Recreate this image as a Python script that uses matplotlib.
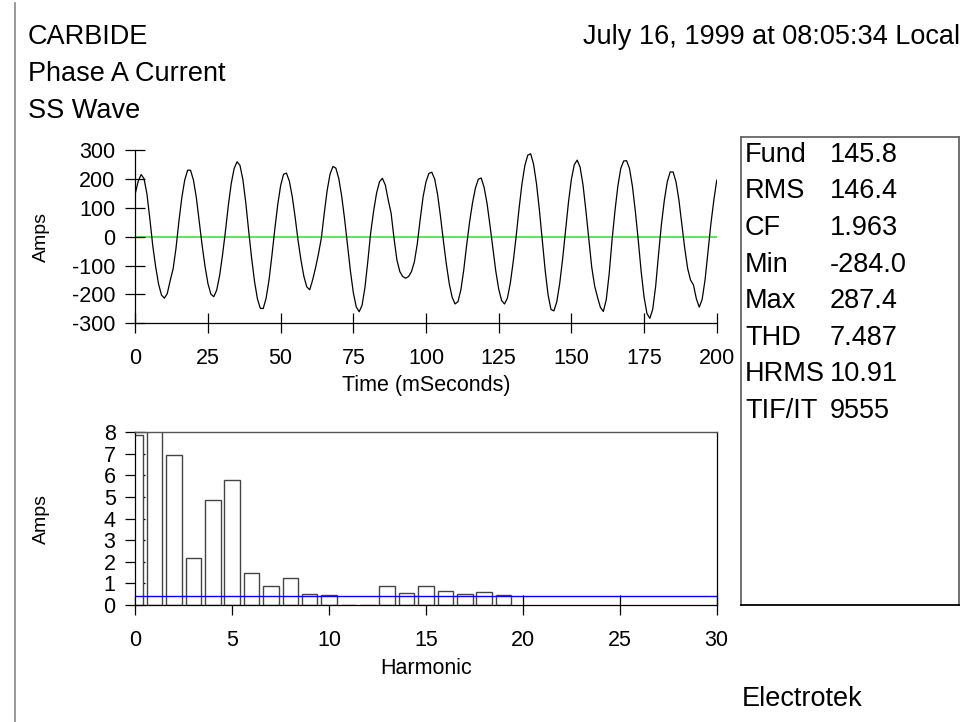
import matplotlib
matplotlib.use('Agg')
import matplotlib.pyplot as plt
from matplotlib.lines import Line2D

plt.rcParams['font.family'] = ['Liberation Sans', 'DejaVu Sans']
plt.rcParams['axes.unicode_minus'] = False

# ---------------- data ----------------
title_lines = ['CARBIDE', 'Phase A Current', 'SS Wave']
date_text = 'July 16, 1999 at 08:05:34 Local'

time_ms = list(range(0, 201))          # sample times (1 ms steps)
wave_amps = [
    150, 192, 215, 201, 148, 62, -31, -104, -164, -202,
    -213, -197, -152, -112, -40, 53, 135, 196, 230, 230,
    196, 135, 53, -31, -104, -163, -199, -208, -185, -135,
    -64, 18, 108, 184, 236, 259, 247, 198, 118, 20,
    -73, -154, -215, -248, -249, -213, -150, -65, 27, 111,
    177, 216, 220, 192, 138, 66, -14, -82, -138, -174,
    -184, -150, -108, -60, -5, 81, 160, 217, 243, 237,
    201, 140, 61, -28, -119, -194, -243, -260, -238, -176,
    -84, 16, 90, 151, 190, 202, 179, 127, 81, -6,
    -81, -121, -138, -144, -138, -121, -87, -25, 60, 138,
    190, 219, 223, 199, 145, 69, -16, -95, -163, -210,
    -233, -225, -184, -114, -28, 51, 117, 168, 199, 203,
    170, 115, 40, -41, -119, -181, -221, -233, -213, -161,
    -87, 0, 96, 182, 246, 282, 287, 251, 184, 93,
    -11, -117, -202, -252, -257, -225, -162, -77, 20, 118,
    198, 249, 265, 241, 180, 91, -8, -105, -170, -210,
    -245, -259, -219, -130, -12, 89, 175, 236, 262, 263,
    236, 175, 89, -11, -119, -208, -266, -283, -251, -172,
    -61, 44, 127, 190, 224, 224, 190, 127, 44, -40,
    -110, -150, -167, -215, -244, -217, -149, -53, 44, 125,
    195]

wave_yticks = [-300, -200, -100, 0, 100, 200, 300]
wave_xticks = [0, 25, 50, 75, 100, 125, 150, 175, 200]

harmonics = [0, 1, 2, 3, 4, 5, 6, 7, 8, 9, 10, 11, 12, 13, 14, 15, 16, 17, 18, 19]
harm_amps = [7.89, 145.8, 6.94, 2.18, 4.85, 5.80, 1.48, 0.88, 1.23, 0.49,
             0.45, 0.0, 0.0, 0.90, 0.54, 0.88, 0.66, 0.51, 0.58, 0.46]
harm_level = 0.40
harm_yticks = [0, 1, 2, 3, 4, 5, 6, 7, 8]
harm_xticks = [0, 5, 10, 15, 20, 25, 30]

stat_names = ['Fund', 'RMS', 'CF', 'Min', 'Max', 'THD', 'HRMS', 'TIF/IT']
stat_values = ['145.8', '146.4', '1.963', '-284.0', '287.4', '7.487', '10.91', '9555']

footer = 'Electrotek'

# ---------------- layout helpers ----------------
W, H = 977, 722
fig = plt.figure(figsize=(W / 100, H / 100), dpi=100)


def fx(px):
    return px / W


def fy(py):
    return 1 - py / H


BIG = 19.5
TICK = 15.5
narrow = ['Liberation Sans Narrow', 'Liberation Sans', 'DejaVu Sans']

# left gray rule
fig.add_artist(Line2D([fx(14.5), fx(14.5)], [fy(3), fy(722)], color='#888888', lw=1.2))

# titles
for i, t in enumerate(title_lines):
    fig.text(fx(28), fy(44.3 + 37 * i), t, fontsize=BIG, va='baseline', ha='left')
fig.text(fx(960), fy(43.5), date_text, fontsize=BIG, va='baseline', ha='right')

# ---------------- waveform axes ----------------
ax1 = fig.add_axes([fx(135.3), fy(323.3), fx(716.7) - fx(135.3), fy(150) - fy(323.3)])
ax1.axhline(0, color='#5ee65e', lw=1.5, zorder=1)
ax1.plot(time_ms, wave_amps, color='black', lw=0.9, zorder=2)
ax1.set_xlim(0, 200)
ax1.set_ylim(-300, 300)
ax1.set_xticks(wave_xticks)
ax1.set_yticks(wave_yticks)
ax1.spines['top'].set_visible(False)
ax1.spines['right'].set_visible(False)
for s in ('left', 'bottom'):
    ax1.spines[s].set_linewidth(0.9)
ax1.tick_params(direction='inout', length=14.4, width=0.9, labelsize=TICK)
ax1.tick_params(axis='x', pad=10.5)
ax1.tick_params(axis='y', pad=7)
ax1.set_xlabel('Time (mSeconds)', fontsize=TICK, labelpad=4.5)
ax1.set_ylabel('Amps', fontsize=14, family=narrow, va='center')
ax1.yaxis.set_label_coords(-0.162, 0.5)
ax1.patch.set_alpha(0)

# ---------------- harmonic axes ----------------
ax2 = fig.add_axes([fx(135.3), fy(605), fx(716.7) - fx(135.3), fy(432.3) - fy(605)])
ax2.bar(harmonics, harm_amps, width=0.8, color='white', edgecolor='#444444', lw=1.0, zorder=2)
ax2.axhline(harm_level, color='#0000ff', lw=1.0, zorder=3)
ax2.set_xlim(0, 30)
ax2.set_ylim(0, 8)
ax2.set_xticks(harm_xticks)
ax2.set_yticks(harm_yticks)
for s in ('left', 'bottom', 'right'):
    ax2.spines[s].set_linewidth(0.9)
    ax2.spines[s].set_color('black')
ax2.spines['top'].set_color('#555555')
ax2.spines['top'].set_linewidth(1.0)
ax2.tick_params(direction='inout', length=14.4, width=0.9, labelsize=TICK)
ax2.tick_params(axis='x', pad=11)
ax2.tick_params(axis='y', pad=7)
ax2.set_xlabel('Harmonic', fontsize=TICK, labelpad=5)
ax2.set_ylabel('Amps', fontsize=14, family=narrow, va='center')
ax2.yaxis.set_label_coords(-0.162, 0.5)

# ---------------- statistics box ----------------
box = fig.add_axes([fx(740.7), fy(605), fx(959) - fx(740.7), fy(137.3) - fy(605)])
box.set_xticks([])
box.set_yticks([])
for s in ('left', 'right', 'top'):
    box.spines[s].set_color('#666666')
    box.spines[s].set_linewidth(1.3)
box.spines['bottom'].set_color('black')
box.spines['bottom'].set_linewidth(1.3)

for i, (n, v) in enumerate(zip(stat_names, stat_values)):
    yb = 162 + 36.5 * i
    fig.text(fx(745), fy(yb), n, fontsize=BIG, va='baseline', ha='left')
    fig.text(fx(830), fy(yb), v, fontsize=BIG, va='baseline', ha='left')

fig.text(fx(741.5), fy(706), footer, fontsize=BIG, va='baseline', ha='left')

fig.savefig('out.png', dpi=100)
